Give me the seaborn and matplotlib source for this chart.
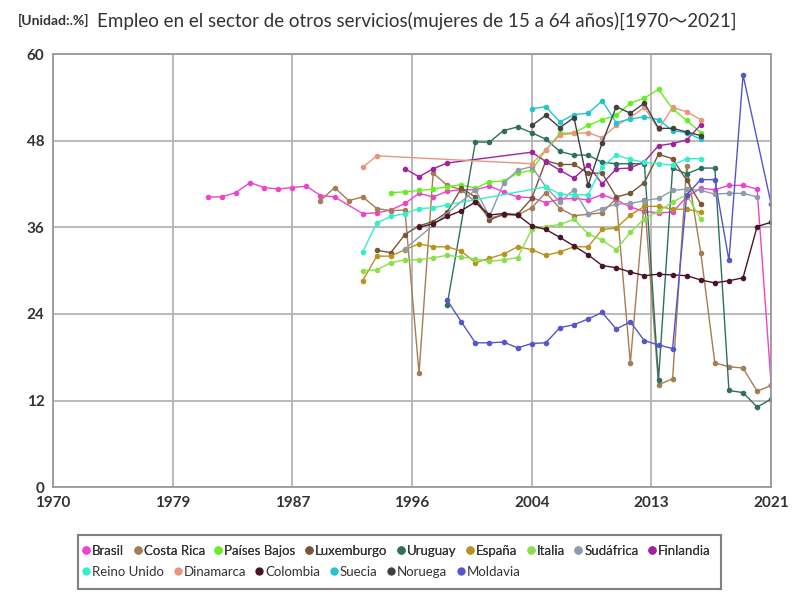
import matplotlib
matplotlib.use('Agg')
import matplotlib.pyplot as plt
import seaborn as sns
from matplotlib.lines import Line2D
from matplotlib.patches import Rectangle

# --- data ---
brasil_years = list(range(1981, 1991)) + list(range(1992, 2022))
brasil_vals = [40.2, 40.2, 40.8, 42.2, 41.5, 41.3, 41.5, 41.7, 40.4, 40.2,
               37.9, 38.0, 38.4, 39.3, 40.7, 40.2, 41.0, 41.2, 41.2, 41.7,
               40.9, 40.2, 40.1, 39.4, 39.9, 40.0, 39.8, 40.5, 39.8, 38.8,
               38.2, 38.0, 38.1, 40.2, 41.4, 41.2, 41.8, 41.8, 41.3, 14.1]

costa_rica_years = list(range(1989, 2022))
costa_rica_vals = [39.7, 41.5, 39.7, 40.2, 38.6, 38.3, 38.4, 15.8, 43.5, 41.8,
                   41.2, 39.5, 37.3, 37.7, 37.7, 38.7, 40.8, 38.6, 37.6, 37.8,
                   38.0, 40.0, 17.2, 39.8, 14.2, 15.0, 44.5, 32.5, 17.2, 16.7,
                   16.5, 13.3, 14.1]

paises_bajos_years = list(range(1994, 2017))
paises_bajos_vals = [40.8, 40.9, 41.1, 41.3, 41.6, 41.9, 41.4, 42.3, 42.4, 43.5,
                     43.9, 46.7, 49.0, 49.1, 50.1, 50.9, 51.5, 53.2, 53.9, 55.1,
                     52.4, 50.8, 49.1]

luxemburgo_years = list(range(1993, 2017))
luxemburgo_vals = [32.8, 32.5, 35.0, 36.2, 36.8, 38.1, 41.4, 40.2, 37.0, 37.8,
                   37.8, 40.0, 45.2, 44.7, 44.7, 43.5, 43.5, 40.2, 40.7, 42.2,
                   46.1, 45.5, 42.5, 39.2]

uruguay_years = [1998] + list(range(2000, 2022))
uruguay_vals = [25.3, 47.8, 47.8, 49.4, 49.9, 49.1, 48.2, 46.5, 46.0, 46.0,
                45.0, 44.8, 44.8, 44.8, 14.9, 44.2, 43.4, 44.2, 44.2, 13.4,
                13.1, 11.1, 12.2]

espana_years = list(range(1992, 2017))
espana_vals = [28.6, 32.0, 32.0, 32.9, 33.7, 33.3, 33.3, 32.7, 31.1, 31.7,
               32.3, 33.3, 32.9, 32.1, 32.6, 33.3, 33.3, 35.7, 35.9, 37.7,
               38.9, 38.9, 38.5, 38.5, 38.1]

italia_years = list(range(1992, 2017))
italia_vals = [30.0, 30.1, 31.1, 31.5, 31.5, 31.8, 32.1, 31.9, 31.6, 31.3,
               31.5, 31.8, 35.7, 36.1, 36.4, 37.1, 35.1, 34.2, 32.9, 35.3,
               37.2, 38.2, 39.5, 40.5, 37.1]

sudafrica_years = [1995] + list(range(2000, 2021))
sudafrica_vals = [33.0, 41.2, 37.5, 42.1, 43.9, 44.4, 41.6, 39.5, 41.2, 37.9,
                  38.6, 39.2, 39.3, 39.7, 40.0, 41.1, 41.3, 41.1, 40.6, 40.7,
                  40.7, 40.2]

finlandia_years = [1995, 1996, 1997, 1998] + list(range(2004, 2017))
finlandia_vals = [44.1, 43.0, 44.1, 44.9, 46.4, 45.1, 43.9, 42.8, 44.6, 42.0,
                  44.1, 44.2, 45.1, 47.3, 47.6, 48.1, 50.2]

reino_unido_years = list(range(1992, 1999)) + list(range(2005, 2017))
reino_unido_vals = [32.6, 36.6, 37.5, 37.9, 38.6, 38.7, 39.1, 41.6, 40.6, 40.5,
                    40.5, 44.4, 46.0, 45.4, 45.0, 44.8, 44.6, 45.5, 45.5]

dinamarca_years = [1992, 1993] + list(range(2004, 2017))
dinamarca_vals = [44.3, 45.9, 44.8, 46.7, 48.8, 49.0, 49.1, 48.4, 50.1, 51.2,
                  52.6, 49.6, 52.6, 52.0, 50.9]

colombia_years = list(range(1996, 2022))
colombia_vals = [36.0, 36.5, 37.5, 38.3, 39.5, 37.7, 37.9, 37.7, 36.2, 35.7,
                 34.6, 33.4, 32.2, 30.7, 30.4, 29.8, 29.3, 29.5, 29.4, 29.3,
                 28.7, 28.3, 28.6, 29.0, 36.1, 36.7]

suecia_years = list(range(2004, 2017))
suecia_vals = [52.4, 52.7, 50.6, 51.6, 51.8, 53.5, 50.5, 51.0, 51.3, 50.9,
               49.4, 49.1, 48.2]

noruega_years = list(range(2004, 2017))
noruega_vals = [50.1, 51.5, 49.8, 51.2, 41.8, 47.7, 52.7, 51.8, 53.2, 49.7,
                49.7, 49.2, 48.7]

moldavia_years = list(range(1998, 2020)) + [2021]
moldavia_vals = [25.9, 22.9, 20.0, 20.0, 20.1, 19.3, 19.9, 20.0, 22.1, 22.5,
                 23.3, 24.2, 21.9, 22.9, 20.3, 19.7, 19.2, 40.5, 42.6, 42.6,
                 31.4, 57.1, 39.2]

series = [
    ('Brasil', brasil_years, brasil_vals, '#EE44CC'),
    ('Costa Rica', costa_rica_years, costa_rica_vals, '#A67C52'),
    ('Países Bajos', paises_bajos_years, paises_bajos_vals, '#66EE22'),
    ('Luxemburgo', luxemburgo_years, luxemburgo_vals, '#7B5536'),
    ('Uruguay', uruguay_years, uruguay_vals, '#2E7060'),
    ('España', espana_years, espana_vals, '#B8921E'),
    ('Italia', italia_years, italia_vals, '#8AE04A'),
    ('Sudáfrica', sudafrica_years, sudafrica_vals, '#8E9AAE'),
    ('Finlandia', finlandia_years, finlandia_vals, '#A0229E'),
    ('Reino Unido', reino_unido_years, reino_unido_vals, '#33F0C8'),
    ('Dinamarca', dinamarca_years, dinamarca_vals, '#E8957A'),
    ('Colombia', colombia_years, colombia_vals, '#4A1428'),
    ('Suecia', suecia_years, suecia_vals, '#22C4D0'),
    ('Noruega', noruega_years, noruega_vals, '#404040'),
    ('Moldavia', moldavia_years, moldavia_vals, '#5555CC'),
]

x_ticks = [1970, 1978.5, 1987, 1995.5, 2004, 2012.5, 2021]
x_labels = ['1970', '1979', '1987', '1996', '2004', '2013', '2021']
y_ticks = [0, 12, 24, 36, 48, 60]

sns.set_style('white')
plt.rcParams['font.family'] = ['Lato', 'Noto Sans CJK JP', 'DejaVu Sans']

fig = plt.figure(figsize=(8, 6), dpi=100)
ax = fig.add_axes([0.066, 0.188, 0.898, 0.722])

for name, yrs, vals, col in series:
    sns.lineplot(x=yrs, y=vals, ax=ax, color=col, linewidth=1,
                 marker='o', markersize=4, markeredgewidth=0, label=name,
                 legend=False)

ax.set_xlim(1970, 2021)
ax.set_ylim(0, 60)
ax.set_xticks(x_ticks)
ax.set_xticklabels(x_labels, fontsize=11, fontweight='bold', color='#333333')
ax.set_yticks(y_ticks)
ax.set_yticklabels([str(v) for v in y_ticks], fontsize=11, fontweight='bold', color='#333333')
ax.tick_params(length=0, pad=6)
ax.grid(True, color='#B4B4B4', linewidth=1.3)
ax.set_axisbelow(True)
for sp in ax.spines.values():
    sp.set_color('#999999')
    sp.set_linewidth(1.3)
ax.set_xlabel('')
ax.set_ylabel('')

fig.text(0.022, 0.966, '[Unidad:.%]', fontsize=10, fontweight='bold', color='#333333', va='center')
fig.text(0.121, 0.966, 'Empleo en el sector de otros servicios(mujeres de 15 a 64 años)[1970～2021]',
         fontsize=13.5, color='#333333', va='center')

# legend: two rows drawn separately so each row keeps its own spacing
handles = [Line2D([], [], linestyle='none', marker='o', markersize=6,
                  markeredgewidth=0, color=col) for _, _, _, col in series]
labels = [name for name, _, _, _ in series]
leg_kw = dict(frameon=False, fontsize=9.5, handletextpad=0.05,
              columnspacing=0.62, borderpad=0, handlelength=0.8,
              loc='center left', labelcolor='#333333')
leg1 = fig.legend(handles[:9], labels[:9], ncol=9,
                  bbox_to_anchor=(0.093, 1 - 551 / 600), **leg_kw)
leg2 = fig.legend(handles[9:], labels[9:], ncol=6,
                  bbox_to_anchor=(0.093, 1 - 572 / 600), **leg_kw)
fig.add_artist(leg1)
fig.patches.append(Rectangle((78 / 800, 1 - 589 / 600), 643 / 800, 54 / 600,
                             transform=fig.transFigure, fill=False,
                             edgecolor='#808080', linewidth=1.5))

fig.savefig('out.png', dpi=100)
